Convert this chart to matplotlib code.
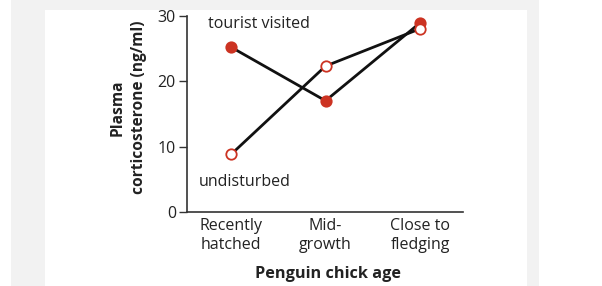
import matplotlib
matplotlib.use("Agg")
import matplotlib.pyplot as plt
from matplotlib.patches import Rectangle

categories = ["Recently\nhatched", "Mid-\ngrowth", "Close to\nfledging"]
tourist = [25.2, 17.0, 28.9]
undisturbed = [8.8, 22.3, 28.0]
yticks = [0, 10, 20, 30]

plt.rcParams['font.family'] = ['Open Sans', 'DejaVu Sans']
W, H = 602, 286
fig = plt.figure(figsize=(W/100, H/100), dpi=100)
fig.patch.set_facecolor('white')
fig.add_artist(Rectangle((11/W, 0), (539-11)/W, 1, transform=fig.transFigure,
                         facecolor='#f2f2f2', edgecolor='none', zorder=0))
fig.add_artist(Rectangle((45/W, 0), (527-45)/W, (286-10)/H, transform=fig.transFigure,
                         facecolor='white', edgecolor='none', zorder=0))

ax = fig.add_axes([187/W, (286-212)/H, 276/W, 196.3/H])
ax.patch.set_alpha(0)
x = list(range(len(categories)))
red = '#cc3322'
ax.plot(x, tourist, color='#111111', lw=2, zorder=2, clip_on=False)
ax.plot(x, undisturbed, color='#111111', lw=2, zorder=2, clip_on=False)
ax.plot(x, tourist, 'o', ms=7.5, mfc=red, mec=red, mew=1.3, zorder=3, clip_on=False)
ax.plot(x, undisturbed, 'o', ms=7.5, mfc='white', mec=red, mew=1.3, zorder=4, clip_on=False)

fs = 11.5
ax.set_xlim(-0.466, 2.455)
ax.set_ylim(0, 30)
ax.set_yticks(yticks)
ax.set_xticks(x)
ax.set_xticklabels(categories, fontsize=fs, linespacing=1.3)
ax.tick_params(axis='x', length=0, pad=4, colors='#222222')
ax.tick_params(axis='y', length=6, width=1, pad=2, labelsize=fs, colors='#333333')
for s in ['top', 'right']:
    ax.spines[s].set_visible(False)
for s in ['left', 'bottom']:
    ax.spines[s].set_color('#333333')
    ax.spines[s].set_linewidth(1.2)
for lab in ax.get_yticklabels():
    lab.set_color('#222222')

ax.text(208, 286-24, "tourist visited", transform=None, fontsize=fs, va='center', ha='left', color='#222222')
fig.text(199/W, 1-182/H, "undisturbed", fontsize=fs, va='center', ha='left', color='#222222')
fig.text(118/W, 1-107.5/H, "Plasma", fontsize=11.2, fontweight='bold', rotation=90, va='center', ha='center', color='#222222')
fig.text(139/W, 1-107.5/H, "corticosterone (ng/ml)", fontsize=11.2, fontweight='bold', rotation=90, va='center', ha='center', color='#222222')
fig.text(328/W, 1-274/H, "Penguin chick age", fontsize=11.7, fontweight='bold', va='center', ha='center', color='#222222')

fig.savefig("out.png", dpi=100)
